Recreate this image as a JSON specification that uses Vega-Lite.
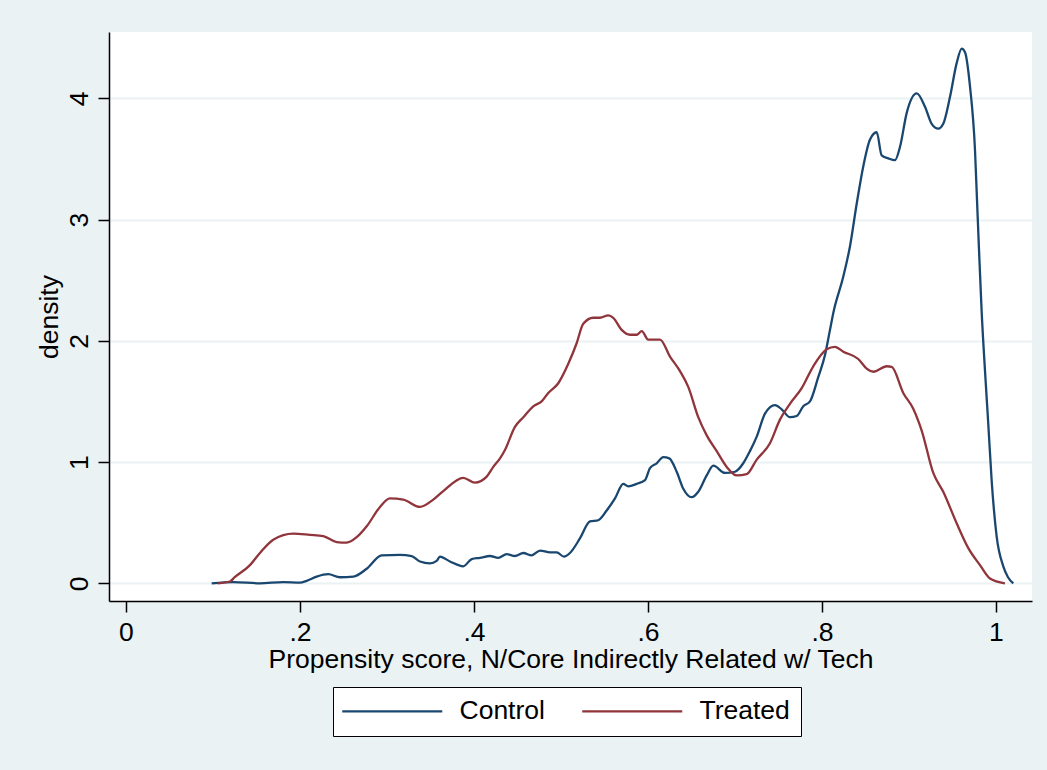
{
  "$schema": "https://vega.github.io/schema/vega-lite/v6.json",
  "autosize": {"type": "none"},
  "width": 923,
  "height": 569,
  "padding": {"left": 109, "top": 32, "right": 15, "bottom": 169},
  "background": "#EAF2F3",
  "config": {
    "font": "Liberation Sans",
    "view": {"fill": "#FFFFFF", "stroke": null},
    "axis": {
      "domainColor": "#000000", "domainWidth": 1.5,
      "tickColor": "#000000", "tickWidth": 1.5, "tickSize": 11,
      "labelColor": "#000000", "labelFontSize": 26.5, "labelFont": "Liberation Sans",
      "titleColor": "#000000", "titleFontSize": 26.5, "titleFontWeight": "normal", "titleFont": "Liberation Sans"
    }
  },
  "data": {"values": [
    {"g":"Control","x":0.0985,"d":0.0},
    {"g":"Control","x":0.1233,"d":0.01},
    {"g":"Control","x":0.154,"d":0.0},
    {"g":"Control","x":0.1808,"d":0.01},
    {"g":"Control","x":0.2,"d":0.005},
    {"g":"Control","x":0.2077,"d":0.02},
    {"g":"Control","x":0.2192,"d":0.055},
    {"g":"Control","x":0.2325,"d":0.075},
    {"g":"Control","x":0.246,"d":0.05},
    {"g":"Control","x":0.2613,"d":0.055},
    {"g":"Control","x":0.2767,"d":0.12},
    {"g":"Control","x":0.2939,"d":0.23},
    {"g":"Control","x":0.3149,"d":0.235},
    {"g":"Control","x":0.3284,"d":0.225},
    {"g":"Control","x":0.3379,"d":0.18},
    {"g":"Control","x":0.3494,"d":0.165},
    {"g":"Control","x":0.3571,"d":0.185},
    {"g":"Control","x":0.3609,"d":0.22},
    {"g":"Control","x":0.3724,"d":0.18},
    {"g":"Control","x":0.3877,"d":0.14},
    {"g":"Control","x":0.3974,"d":0.2},
    {"g":"Control","x":0.4069,"d":0.21},
    {"g":"Control","x":0.4184,"d":0.225},
    {"g":"Control","x":0.4279,"d":0.21},
    {"g":"Control","x":0.4376,"d":0.24},
    {"g":"Control","x":0.4471,"d":0.225},
    {"g":"Control","x":0.4567,"d":0.25},
    {"g":"Control","x":0.4663,"d":0.23},
    {"g":"Control","x":0.4759,"d":0.27},
    {"g":"Control","x":0.4874,"d":0.255},
    {"g":"Control","x":0.4951,"d":0.255},
    {"g":"Control","x":0.5034,"d":0.22},
    {"g":"Control","x":0.5103,"d":0.25},
    {"g":"Control","x":0.5218,"d":0.37},
    {"g":"Control","x":0.5333,"d":0.51},
    {"g":"Control","x":0.5429,"d":0.52},
    {"g":"Control","x":0.5525,"d":0.6},
    {"g":"Control","x":0.5621,"d":0.7},
    {"g":"Control","x":0.5716,"d":0.82},
    {"g":"Control","x":0.5774,"d":0.8},
    {"g":"Control","x":0.587,"d":0.82},
    {"g":"Control","x":0.5966,"d":0.85},
    {"g":"Control","x":0.6023,"d":0.95},
    {"g":"Control","x":0.61,"d":0.99},
    {"g":"Control","x":0.6176,"d":1.04},
    {"g":"Control","x":0.6245,"d":1.03},
    {"g":"Control","x":0.633,"d":0.92},
    {"g":"Control","x":0.6406,"d":0.78},
    {"g":"Control","x":0.6502,"d":0.71},
    {"g":"Control","x":0.6578,"d":0.755},
    {"g":"Control","x":0.6675,"d":0.89},
    {"g":"Control","x":0.6751,"d":0.97},
    {"g":"Control","x":0.6885,"d":0.91},
    {"g":"Control","x":0.7,"d":0.92},
    {"g":"Control","x":0.7095,"d":0.99},
    {"g":"Control","x":0.7172,"d":1.09},
    {"g":"Control","x":0.725,"d":1.21},
    {"g":"Control","x":0.7345,"d":1.4},
    {"g":"Control","x":0.746,"d":1.47},
    {"g":"Control","x":0.7537,"d":1.435},
    {"g":"Control","x":0.7632,"d":1.37},
    {"g":"Control","x":0.7709,"d":1.38},
    {"g":"Control","x":0.7785,"d":1.46},
    {"g":"Control","x":0.7862,"d":1.5},
    {"g":"Control","x":0.7957,"d":1.7},
    {"g":"Control","x":0.8034,"d":1.88},
    {"g":"Control","x":0.8092,"d":2.09},
    {"g":"Control","x":0.813,"d":2.23},
    {"g":"Control","x":0.8245,"d":2.53},
    {"g":"Control","x":0.8322,"d":2.78},
    {"g":"Control","x":0.8399,"d":3.13},
    {"g":"Control","x":0.8475,"d":3.44},
    {"g":"Control","x":0.8552,"d":3.66},
    {"g":"Control","x":0.8629,"d":3.72},
    {"g":"Control","x":0.8686,"d":3.53},
    {"g":"Control","x":0.8762,"d":3.505},
    {"g":"Control","x":0.8839,"d":3.49},
    {"g":"Control","x":0.8897,"d":3.6},
    {"g":"Control","x":0.8974,"d":3.88},
    {"g":"Control","x":0.9089,"d":4.04},
    {"g":"Control","x":0.9184,"d":3.93},
    {"g":"Control","x":0.9261,"d":3.79},
    {"g":"Control","x":0.9337,"d":3.75},
    {"g":"Control","x":0.9394,"d":3.79},
    {"g":"Control","x":0.9471,"d":4.01},
    {"g":"Control","x":0.9548,"d":4.29},
    {"g":"Control","x":0.9606,"d":4.41},
    {"g":"Control","x":0.9644,"d":4.38},
    {"g":"Control","x":0.9701,"d":4.1},
    {"g":"Control","x":0.9759,"d":3.57},
    {"g":"Control","x":0.9782,"d":3.16},
    {"g":"Control","x":0.9805,"d":2.75},
    {"g":"Control","x":0.9836,"d":2.23},
    {"g":"Control","x":0.9874,"d":1.75},
    {"g":"Control","x":0.9911,"d":1.32},
    {"g":"Control","x":0.995,"d":0.85},
    {"g":"Control","x":1.0008,"d":0.385},
    {"g":"Control","x":1.0084,"d":0.14},
    {"g":"Control","x":1.0138,"d":0.05},
    {"g":"Control","x":1.0199,"d":0.0},
    {"g":"Treated","x":0.1057,"d":0.0},
    {"g":"Treated","x":0.1195,"d":0.015},
    {"g":"Treated","x":0.125,"d":0.05},
    {"g":"Treated","x":0.1425,"d":0.15},
    {"g":"Treated","x":0.154,"d":0.25},
    {"g":"Treated","x":0.1693,"d":0.36},
    {"g":"Treated","x":0.1923,"d":0.41},
    {"g":"Treated","x":0.2115,"d":0.4},
    {"g":"Treated","x":0.2268,"d":0.39},
    {"g":"Treated","x":0.2422,"d":0.34},
    {"g":"Treated","x":0.2537,"d":0.335},
    {"g":"Treated","x":0.2652,"d":0.38},
    {"g":"Treated","x":0.2767,"d":0.47},
    {"g":"Treated","x":0.292,"d":0.63},
    {"g":"Treated","x":0.3034,"d":0.7},
    {"g":"Treated","x":0.3187,"d":0.69},
    {"g":"Treated","x":0.3379,"d":0.63},
    {"g":"Treated","x":0.3532,"d":0.69},
    {"g":"Treated","x":0.3647,"d":0.76},
    {"g":"Treated","x":0.3877,"d":0.87},
    {"g":"Treated","x":0.4011,"d":0.83},
    {"g":"Treated","x":0.4146,"d":0.88},
    {"g":"Treated","x":0.4222,"d":0.96},
    {"g":"Treated","x":0.4299,"d":1.03},
    {"g":"Treated","x":0.4356,"d":1.1},
    {"g":"Treated","x":0.4471,"d":1.29},
    {"g":"Treated","x":0.4567,"d":1.37},
    {"g":"Treated","x":0.4682,"d":1.46},
    {"g":"Treated","x":0.4778,"d":1.5},
    {"g":"Treated","x":0.4854,"d":1.57},
    {"g":"Treated","x":0.4969,"d":1.65},
    {"g":"Treated","x":0.5084,"d":1.81},
    {"g":"Treated","x":0.518,"d":1.98},
    {"g":"Treated","x":0.5256,"d":2.14},
    {"g":"Treated","x":0.5371,"d":2.19},
    {"g":"Treated","x":0.5448,"d":2.19},
    {"g":"Treated","x":0.5544,"d":2.21},
    {"g":"Treated","x":0.5601,"d":2.19},
    {"g":"Treated","x":0.5698,"d":2.09},
    {"g":"Treated","x":0.5793,"d":2.05},
    {"g":"Treated","x":0.587,"d":2.05},
    {"g":"Treated","x":0.5928,"d":2.08},
    {"g":"Treated","x":0.6003,"d":2.01},
    {"g":"Treated","x":0.6138,"d":2.01},
    {"g":"Treated","x":0.6253,"d":1.87},
    {"g":"Treated","x":0.6368,"d":1.75},
    {"g":"Treated","x":0.6463,"d":1.62},
    {"g":"Treated","x":0.6578,"d":1.37},
    {"g":"Treated","x":0.6675,"d":1.22},
    {"g":"Treated","x":0.679,"d":1.09},
    {"g":"Treated","x":0.6905,"d":0.96},
    {"g":"Treated","x":0.702,"d":0.89},
    {"g":"Treated","x":0.7134,"d":0.9},
    {"g":"Treated","x":0.725,"d":1.02},
    {"g":"Treated","x":0.7402,"d":1.155},
    {"g":"Treated","x":0.7517,"d":1.35},
    {"g":"Treated","x":0.7632,"d":1.48},
    {"g":"Treated","x":0.7767,"d":1.61},
    {"g":"Treated","x":0.79,"d":1.79},
    {"g":"Treated","x":0.8054,"d":1.93},
    {"g":"Treated","x":0.8149,"d":1.95},
    {"g":"Treated","x":0.8245,"d":1.91},
    {"g":"Treated","x":0.8417,"d":1.85},
    {"g":"Treated","x":0.8514,"d":1.77},
    {"g":"Treated","x":0.859,"d":1.745},
    {"g":"Treated","x":0.8744,"d":1.79},
    {"g":"Treated","x":0.8801,"d":1.785},
    {"g":"Treated","x":0.8934,"d":1.57},
    {"g":"Treated","x":0.9049,"d":1.44},
    {"g":"Treated","x":0.9146,"d":1.26},
    {"g":"Treated","x":0.9279,"d":0.91},
    {"g":"Treated","x":0.9394,"d":0.755},
    {"g":"Treated","x":0.9548,"d":0.495},
    {"g":"Treated","x":0.9682,"d":0.29},
    {"g":"Treated","x":0.9816,"d":0.15},
    {"g":"Treated","x":0.9931,"d":0.04},
    {"g":"Treated","x":1.0103,"d":0.0}
  ]},
  "mark": {"type": "line", "strokeWidth": 2.3, "interpolate": "monotone"},
  "encoding": {
    "x": {
      "field": "x", "type": "quantitative",
      "scale": {"domain": [-0.0195, 1.0414], "nice": false, "zero": false},
      "axis": {
        "values": [0, 0.2, 0.4, 0.6, 0.8, 1],
        "labelExpr": "datum.value == 0 ? '0' : datum.value == 1 ? '1' : '.' + round(datum.value * 10)",
        "grid": false, "labelPadding": 7, "titlePadding": 1,
        "title": "Propensity score, N/Core Indirectly Related w/ Tech"
      }
    },
    "y": {
      "field": "d", "type": "quantitative",
      "scale": {"domain": [-0.146, 4.547], "nice": false, "zero": false},
      "axis": {
        "values": [0, 1, 2, 3, 4],
        "grid": true, "gridColor": "#EAF2F3", "gridWidth": 2,
        "labelAngle": -90, "labelAlign": "center", "labelBaseline": "alphabetic", "labelPadding": 11,
        "title": "density", "titlePadding": 3
      }
    },
    "color": {
      "field": "g", "type": "nominal",
      "scale": {"domain": ["Control", "Treated"], "range": ["#1A476F", "#90353B"]},
      "legend": {
        "title": null, "orient": "none", "direction": "horizontal",
        "legendX": 224, "legendY": 655,
        "fillColor": "#FFFFFF", "strokeColor": "#000000", "padding": 11,
        "symbolType": "M-1.5,0H8.5", "symbolSize": 400, "symbolStrokeWidth": 2.3,
        "labelFontSize": 26.5, "labelColor": "#000000", "labelOffset": 89,
        "columnPadding": 32, "labelLimit": 300
      }
    }
  }
}
